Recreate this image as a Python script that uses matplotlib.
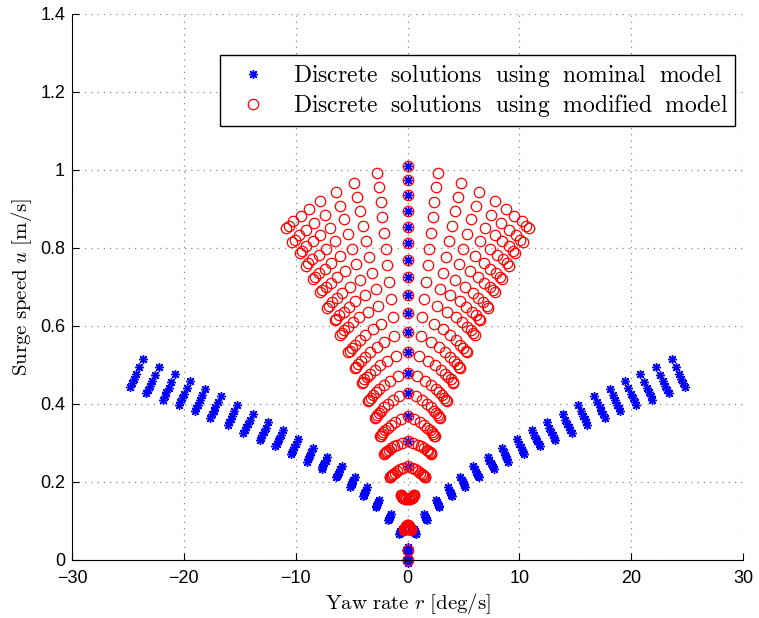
import numpy as np
import matplotlib.pyplot as plt

plt.rcParams['mathtext.fontset'] = 'cm'

# velocidade de avanco no centro (r = 0) de cada nivel de empuxo
u_centro = [1.010, 0.973, 0.935, 0.895, 0.853, 0.812, 0.769, 0.725, 0.679, 0.633,
            0.584, 0.533, 0.480, 0.427, 0.368, 0.305, 0.240, 0.157, 0.090, 0.026, 0.0]

# modelo modificado: metade direita de cada linha (r > 0), espelhada depois
mod_r = [
    [2.71, 4.77, 6.40, 7.81, 8.79, 9.55, 10.20, 10.63, 10.85],
    [2.58, 4.53, 6.08, 7.42, 8.34, 9.06, 9.68, 10.09, 10.30],
    [2.41, 4.25, 5.69, 6.95, 7.82, 8.49, 9.07, 9.46, 9.65],
    [2.26, 3.98, 5.34, 6.52, 7.33, 7.96, 8.51, 8.87, 9.05],
    [2.11, 3.70, 4.97, 6.06, 6.82, 7.41, 7.91, 8.25, 8.42],
    [1.95, 3.43, 4.60, 5.62, 6.32, 6.86, 7.33, 7.64, 7.80],
    [1.80, 3.17, 4.25, 5.18, 5.83, 6.34, 6.77, 7.06, 7.20],
    [1.63, 2.86, 3.84, 4.68, 5.27, 5.72, 6.11, 6.37, 6.50],
    [1.50, 2.64, 3.54, 4.32, 4.86, 5.28, 5.64, 5.88, 6.00],
    [1.33, 2.33, 3.13, 3.82, 4.29, 4.66, 4.98, 5.19, 5.30],
    [1.18, 2.07, 2.77, 3.38, 3.81, 4.14, 4.42, 4.61, 4.70],
    [1.03, 1.80, 2.42, 2.95, 3.32, 3.61, 3.85, 4.02, 4.10],
    [0.88, 1.54, 2.07, 2.52, 2.84, 3.08, 3.29, 3.43, 3.50],
    [0.73, 1.28, 1.71, 2.09, 2.35, 2.55, 2.73, 2.84, 2.90],
    [0.61, 1.08, 1.45, 1.76, 1.98, 2.16, 2.30, 2.40, 2.45],
    [0.53, 0.92, 1.24, 1.51, 1.70, 1.85, 1.97, 2.06, 2.10],
    [0.40, 0.70, 0.94, 1.15, 1.30, 1.41, 1.50, 1.57, 1.60],
    [0.12, 0.22, 0.30, 0.37, 0.43, 0.48, 0.52, 0.55, 0.57],
    [0.04, 0.08, 0.12, 0.16, 0.19, 0.22, 0.25, 0.27, 0.28],
]
mod_u = [
    [0.992, 0.967, 0.943, 0.920, 0.900, 0.882, 0.869, 0.856, 0.850],
    [0.956, 0.930, 0.907, 0.885, 0.864, 0.847, 0.834, 0.821, 0.815],
    [0.919, 0.895, 0.873, 0.852, 0.833, 0.817, 0.805, 0.793, 0.787],
    [0.880, 0.857, 0.836, 0.817, 0.798, 0.783, 0.772, 0.761, 0.755],
    [0.839, 0.817, 0.798, 0.779, 0.762, 0.747, 0.737, 0.726, 0.721],
    [0.798, 0.778, 0.759, 0.741, 0.725, 0.711, 0.701, 0.691, 0.686],
    [0.756, 0.736, 0.718, 0.701, 0.685, 0.671, 0.662, 0.652, 0.647],
    [0.713, 0.695, 0.679, 0.663, 0.649, 0.637, 0.628, 0.619, 0.615],
    [0.668, 0.651, 0.636, 0.622, 0.609, 0.597, 0.589, 0.581, 0.577],
    [0.622, 0.606, 0.591, 0.576, 0.563, 0.552, 0.544, 0.536, 0.532],
    [0.574, 0.559, 0.545, 0.532, 0.520, 0.510, 0.503, 0.496, 0.492],
    [0.524, 0.511, 0.499, 0.488, 0.478, 0.469, 0.463, 0.456, 0.453],
    [0.472, 0.460, 0.449, 0.439, 0.430, 0.422, 0.416, 0.410, 0.407],
    [0.420, 0.410, 0.400, 0.391, 0.383, 0.376, 0.371, 0.366, 0.363],
    [0.362, 0.354, 0.347, 0.339, 0.333, 0.327, 0.323, 0.319, 0.317],
    [0.301, 0.296, 0.291, 0.286, 0.282, 0.279, 0.276, 0.273, 0.272],
    [0.237, 0.232, 0.228, 0.224, 0.221, 0.218, 0.215, 0.213, 0.212],
    [0.157, 0.157, 0.158, 0.159, 0.160, 0.162, 0.164, 0.166, 0.167],
    [0.089, 0.088, 0.087, 0.085, 0.083, 0.082, 0.080, 0.079, 0.078],
]

# modelo nominal: tracos do braco direito (r > 0), espelhados depois
nom_r = [
    [0.54, 0.60, 0.64, 0.68, 0.71, 0.74],
    [1.46, 1.54, 1.59, 1.64, 1.68, 1.71],
    [2.53, 2.62, 2.69, 2.75, 2.79, 2.84],
    [3.60, 3.71, 3.79, 3.86, 3.91, 3.97],
    [4.72, 4.85, 4.94, 5.01, 5.08, 5.14],
    [5.89, 6.03, 6.14, 6.22, 6.29, 6.37],
    [7.16, 7.32, 7.44, 7.53, 7.61, 7.69],
    [8.43, 8.61, 8.73, 8.84, 8.93, 9.02],
    [9.80, 9.99, 10.13, 10.25, 10.34, 10.44],
    [11.12, 11.33, 11.48, 11.61, 11.71, 11.82],
    [12.44, 12.67, 12.83, 12.97, 13.08, 13.19],
    [13.86, 14.10, 14.28, 14.42, 14.54, 14.67],
    [15.23, 15.49, 15.68, 15.83, 15.96, 16.09],
    [16.70, 16.97, 17.18, 17.34, 17.48, 17.62],
    [18.07, 18.36, 18.57, 18.75, 18.89, 19.04],
    [19.44, 19.75, 19.97, 20.16, 20.31, 20.47],
    [20.81, 21.13, 21.37, 21.57, 21.73, 21.89],
    [22.23, 22.57, 22.82, 23.02, 23.19, 23.37],
    [23.65, 24.01, 24.27, 24.48, 24.66, 24.84],
]
nom_u = [
    [0.079, 0.075, 0.073, 0.071, 0.069, 0.067],
    [0.119, 0.114, 0.111, 0.108, 0.106, 0.103],
    [0.154, 0.148, 0.144, 0.141, 0.138, 0.135],
    [0.186, 0.179, 0.175, 0.171, 0.167, 0.164],
    [0.213, 0.205, 0.200, 0.195, 0.192, 0.188],
    [0.240, 0.232, 0.225, 0.220, 0.216, 0.212],
    [0.265, 0.255, 0.248, 0.243, 0.238, 0.233],
    [0.288, 0.277, 0.270, 0.263, 0.258, 0.252],
    [0.309, 0.298, 0.289, 0.282, 0.276, 0.271],
    [0.333, 0.320, 0.311, 0.304, 0.298, 0.291],
    [0.353, 0.339, 0.329, 0.321, 0.314, 0.308],
    [0.374, 0.360, 0.349, 0.340, 0.333, 0.326],
    [0.397, 0.381, 0.370, 0.361, 0.353, 0.345],
    [0.420, 0.404, 0.391, 0.382, 0.373, 0.365],
    [0.439, 0.422, 0.409, 0.398, 0.390, 0.381],
    [0.458, 0.440, 0.426, 0.415, 0.406, 0.397],
    [0.476, 0.457, 0.442, 0.431, 0.421, 0.411],
    [0.495, 0.475, 0.460, 0.447, 0.437, 0.427],
    [0.515, 0.494, 0.478, 0.465, 0.454, 0.444],
]
# pontos quase coincidentes perto de u = 0 (viram um disco azul)
nom_base_r = [-0.12, 0.12, 0.0, 0.0, -0.12, 0.12, 0.0, 0.0]
nom_base_u = [0.026, 0.026, 0.033, 0.019, 0.0, 0.0, 0.007, -0.007]


def espelhar(r_dir, u_dir):
    r = np.concatenate([np.ravel(r_dir), -np.ravel(r_dir)])
    u = np.concatenate([np.ravel(u_dir), np.ravel(u_dir)])
    return r, u


asterisco = (8, 2, 0)

fig = plt.figure(figsize=(7.59, 6.18), dpi=100)
ax = fig.add_axes([0.0949, 0.0939, 0.8841, 0.8835])

# nominal (azul) primeiro, modificado (vermelho) por cima
r_nom, u_nom = espelhar(nom_r, nom_u)
r_nom = np.concatenate([r_nom, np.zeros(len(u_centro)), nom_base_r])
u_nom = np.concatenate([u_nom, u_centro, nom_base_u])
ax.plot(r_nom, u_nom, linestyle='none', marker=asterisco, markersize=6.5,
        markeredgewidth=1.0, color='#0000ff', clip_on=False,
        label=r'$\mathrm{Discrete\ \ solutions\ \ using\ \ nominal\ \ model}$')

r_mod, u_mod = espelhar(mod_r, mod_u)
r_mod = np.concatenate([r_mod, np.zeros(len(u_centro))])
u_mod = np.concatenate([u_mod, u_centro])
ax.plot(r_mod, u_mod, linestyle='none', marker='o', markersize=7.5,
        markerfacecolor='none', markeredgewidth=0.9, color='#ff0000', clip_on=False,
        label=r'$\mathrm{Discrete\ \ solutions\ \ using\ \ modified\ \ model}$')

ax.set_xlim(-30, 30)
ax.set_ylim(0, 1.4)
ax.set_xticks([-30, -20, -10, 0, 10, 20, 30])
ax.set_xticklabels(['\u221230', '\u221220', '\u221210', '0', '10', '20', '30'])
ax.set_yticks([0, 0.2, 0.4, 0.6, 0.8, 1.0, 1.2, 1.4])
ax.set_yticklabels(['0', '0.2', '0.4', '0.6', '0.8', '1', '1.2', '1.4'])
for lab in ax.get_xticklabels() + ax.get_yticklabels():
    lab.set_family('Liberation Sans')
    lab.set_fontsize(13)
ax.tick_params(direction='in', length=5, width=0.8)
ax.tick_params(axis='x', pad=7)
ax.tick_params(axis='y', pad=5)

ax.grid(True, linestyle=(0, (1, 4)), color='#888888', linewidth=0.9)
ax.set_axisbelow(True)
ax.spines['top'].set_visible(False)
ax.spines['right'].set_visible(False)

ax.set_xlabel(r'$\mathrm{Yaw\ rate}\ r\ \mathrm{[deg/s]}$', fontsize=15, labelpad=3)
ax.set_ylabel(r'$\mathrm{Surge\ speed}\ u\ \mathrm{[m/s]}$', fontsize=15, labelpad=4)

leg = ax.legend(loc='upper right', bbox_to_anchor=(0.988, 0.925), fontsize=17,
                fancybox=False, framealpha=1, edgecolor='black', borderpad=0.3,
                handlelength=2.2, handletextpad=0.6, labelspacing=0.12,
                borderaxespad=0)
leg.get_frame().set_linewidth(1.0)

fig.savefig('out.png', dpi=100)
